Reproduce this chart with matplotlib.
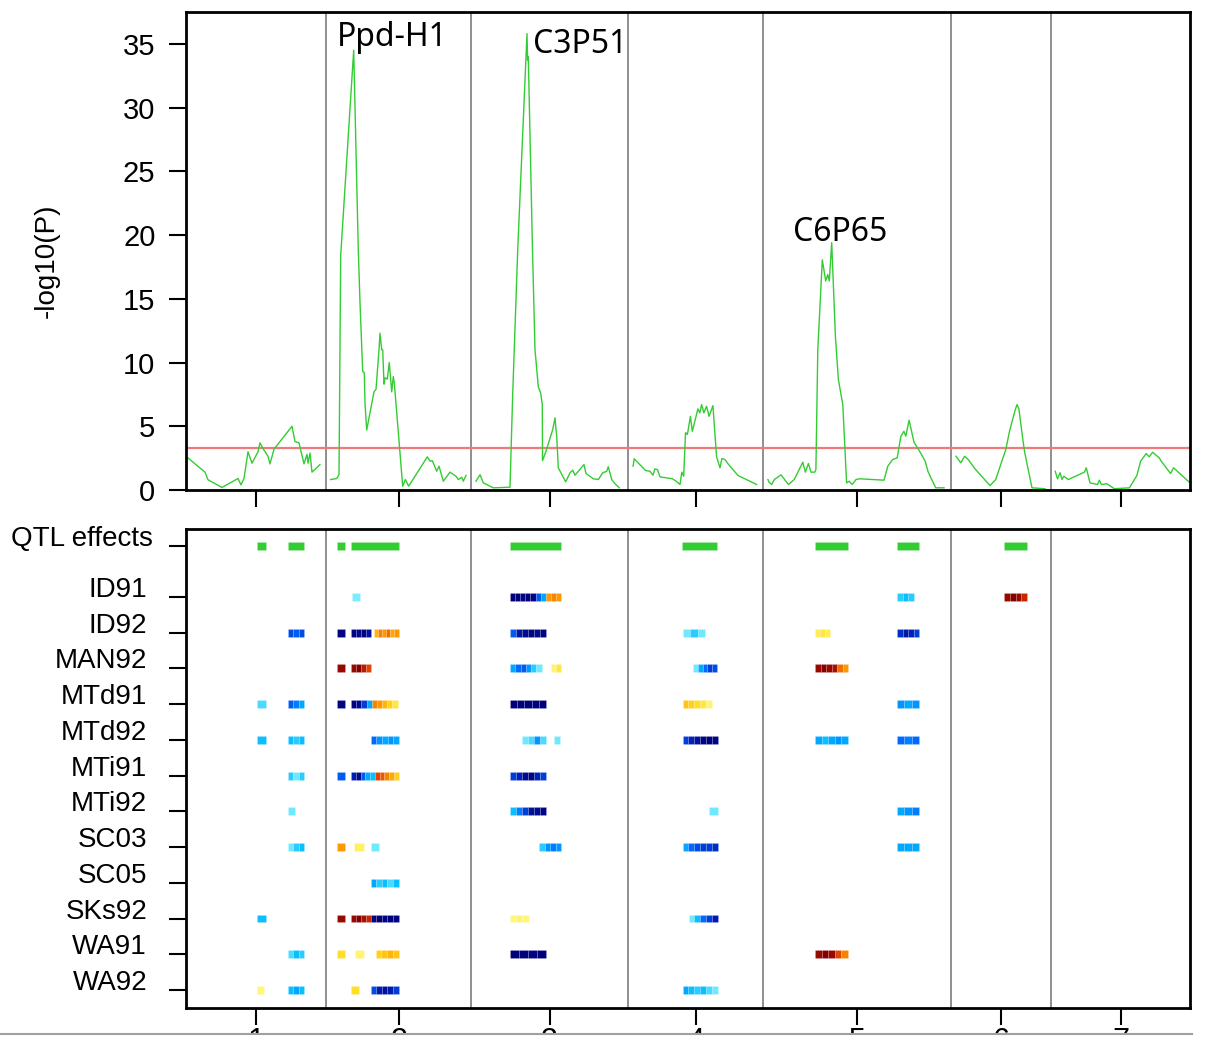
import numpy as np
import matplotlib
matplotlib.use("Agg")
import matplotlib.pyplot as plt
from matplotlib.colors import LinearSegmentedColormap, Normalize
from matplotlib.patches import Rectangle
from matplotlib.lines import Line2D

# chromosome lengths (cM) and tick labels
chrom_len = [140, 145, 157, 135, 188, 100, 139]
chrom_labels = ['1', '2', '3', '4', '5', '6', '7']

# -log10(P) scan, per chromosome (position cM, value)
scan_pos = [
    [0.7, 19, 22, 36, 52, 55, 58, 62, 66, 72, 74, 77, 82, 84, 88, 106, 109, 113,
     118, 121, 122, 124, 126, 134],
    [4.7, 10.7, 13, 14.7, 27.7, 32.3, 34, 34.3, 36.7, 38.3, 39, 40.7, 48, 50, 53,
     54, 55.7, 56.7, 58, 59, 61.3, 63.3, 65.7, 67.3, 68.3, 76.7, 79.3, 82.7, 101.3,
     104, 106.3, 110.7, 113, 117.3, 124, 130, 132.3, 135.7, 137.3, 140],
    [5, 9, 12.3, 22.3, 39, 41.7, 46.7, 56, 56.6, 57.3, 61.5, 64, 67.3, 69.7, 71.3,
     71.5, 75, 81.7, 84, 85.7, 87.3, 94.7, 99, 101.7, 104, 113, 115, 122.3, 127.3,
     131.7, 135.7, 137.3, 140.7, 144, 148.3],
    [5.1, 6.2, 17.5, 22, 25, 26.8, 29.5, 32, 44.4, 48.2, 52, 53.8, 55.7, 57.5, 59.4,
     62.4, 64.3, 69.9, 71.8, 73.6, 75.9, 78.5, 81.1, 84.9, 88.6, 92, 93.9, 96.9,
     100.6, 110, 128.7],
    [4.9, 6, 8.7, 11.3, 18, 25.5, 31.2, 39.8, 42.4, 45.4, 48, 51.8, 52.9, 54.8, 59.3,
     62.7, 64.7, 66.3, 68.7, 72.4, 75.4, 79.8, 83.6, 86.2, 89.2, 93, 96.7, 121, 124.8,
     129.7, 134.2, 137.9, 140.9, 142.8, 146.1, 151, 156.6, 162.2, 164.9, 167.9,
     172.7, 181],
    [5, 9.8, 13.6, 17.3, 24, 39, 44.7, 54.8, 58.5, 61.5, 64.1, 66, 67.9, 71.6, 73.5,
     76.5, 81, 94],
    [4.2, 6.5, 9.1, 11, 12.8, 17.3, 33.4, 35.3, 39, 46.5, 48.4, 50.3, 55.9, 63.4,
     78.4, 85.9, 89.6, 95.2, 98.2, 101.6, 108.3, 110.2, 119.6, 122.6, 138.3],
]
scan_val = [
    [2.6, 1.4, 0.8, 0.2, 0.9, 0.4, 0.9, 3.0, 2.1, 3.0, 3.7, 3.25, 2.65, 2.05, 3.2,
     5.0, 3.8, 3.7, 2.05, 2.8, 2.1, 2.9, 1.4, 2.0],
    [0.82, 0.9, 1.2, 18.4, 34.5, 18.8, 14.7, 14.1, 9.3, 9.2, 6.8, 4.7, 7.7, 7.9, 11.0,
     12.3, 11.0, 11.0, 8.3, 8.8, 8.7, 10.0, 7.7, 8.9, 8.4, 0.3, 0.82, 0.3, 2.6, 2.26,
     2.3, 1.47, 1.87, 0.69, 1.4, 1.08, 0.82, 1.0, 0.69, 1.14],
    [0.69, 1.2, 0.56, 0.17, 0.22, 7.5, 18.8, 35.8, 33.7, 34.0, 18.8, 11.0, 8.1, 7.6,
     6.7, 2.3, 3.04, 4.74, 5.66, 4.2, 1.74, 0.64, 1.35, 1.55, 1.16, 2.0, 1.29, 0.88,
     0.82, 1.35, 1.47, 1.82, 0.82, 0.49, 0.17],
    [1.87, 2.45, 1.53, 1.47, 1.16, 1.66, 1.6, 1.03, 0.88, 0.69, 0.43, 1.4, 1.08, 4.5,
     4.35, 5.78, 4.6, 6.36, 6.05, 6.7, 6.05, 6.57, 5.78, 6.62, 2.6, 1.74, 2.47, 2.39,
     2.0, 1.14, 0.43],
    [0.82, 0.61, 0.43, 0.82, 1.19, 0.43, 0.82, 2.18, 1.4, 2.08, 1.4, 1.4, 1.6, 11.0,
     18.06, 16.4, 16.9, 16.4, 19.4, 12.05, 8.66, 6.7, 0.56, 0.69, 0.43, 0.82, 0.88,
     0.77, 1.87, 2.39, 2.52, 4.22, 4.6, 4.22, 5.47, 3.75, 3.04, 2.26, 1.47, 0.96,
     0.17, 0.17],
    [2.65, 2.13, 2.65, 2.39, 1.66, 0.35, 0.82, 3.17, 4.6, 5.5, 6.25, 6.7, 6.36, 4.1,
     3.04, 1.87, 0.17, 0.1],
    [1.47, 0.88, 1.35, 0.82, 1.08, 0.82, 1.4, 1.74, 0.56, 0.43, 0.77, 0.43, 0.49, 0.1,
     0.17, 1.14, 2.26, 2.86, 2.6, 2.96, 2.52, 2.26, 1.29, 1.74, 0.61],
]
threshold = 3.3

# peak labels: (text, chromosome, position cM, value)
peak_labels = [('Ppd-H1', 2, 11.3, 34.8), ('C3P51', 3, 62.3, 34.3), ('C6P65', 5, 29.7, 19.5)]

# QTL intervals (chromosome, start cM, end cM)
qtl_bars = [(1, 71, 80), (1, 102, 118), (2, 11, 19), (2, 25, 73), (3, 39, 90),
            (4, 54, 89), (5, 52, 85), (5, 134, 156), (6, 53, 76)]

# QTL effects per environment: (chromosome, start, end, effects along the interval)
ID91 = [(2, 26, 34, [-0.08]), (3, 39, 90, [-1, -1, -0.95, -1, -0.95, -0.5, -0.3, 0.5, 0.55, 0.5]),
        (5, 134, 151, [-0.2, -0.25, -0.2]), (6, 53, 76, [0.95, 1, 0.95, 0.8])]
ID92 = [(1, 102, 118, [-0.55, -0.5, -0.55]), (2, 11, 19, [-0.95]),
        (2, 25, 45, [-0.95, -0.9, -0.95, -0.85]), (2, 47.5, 72.5, [0.4, 0.55, 0.5, 0.6, 0.45, 0.5]),
        (3, 39, 75, [-0.5, -0.8, -0.9, -0.95, -0.9, -0.95]), (4, 55, 77, [-0.1, -0.2, -0.1]),
        (5, 52, 67, [0.15, 0.2, 0.15]), (5, 134, 156, [-0.65, -0.8, -0.7, -0.6])]
MAN92 = [(2, 11, 19, [0.95]), (2, 25, 44.5, [0.95, 1, 0.85, 0.7]),
         (3, 39, 70.5, [-0.3, -0.45, -0.5, -0.35, -0.2, -0.1]), (3, 79.5, 90, [0.1, 0.2]),
         (4, 65, 89, [-0.1, -0.3, -0.45, -0.6, -0.55]), (5, 52, 85, [0.95, 1, 0.95, 0.9, 0.6, 0.5])]
MTd91 = [(1, 71, 80, [-0.15]), (1, 102, 118, [-0.5, -0.4, -0.3]), (2, 11, 19, [-0.95]),
         (2, 25, 71.5, [-0.95, -0.9, -0.6, -0.3, 0.55, 0.5, 0.4, 0.3, 0.2]),
         (3, 39, 75, [-1, -1, -1, -1, -1]), (4, 54.5, 83.5, [0.35, 0.3, 0.25, 0.2, 0.1]),
         (5, 134, 156, [-0.35, -0.3, -0.35])]
MTd92 = [(1, 71, 80, [-0.25]), (1, 102, 118, [-0.25, -0.2, -0.25]),
         (2, 44.5, 73, [-0.45, -0.35, -0.3, -0.35, -0.3]), (3, 50.5, 74.5, [-0.1, -0.15, -0.35, -0.15]),
         (3, 82.5, 89, [-0.1]), (4, 54.5, 89.5, [-0.6, -0.7, -0.85, -0.95, -1, -0.95]),
         (5, 52, 85, [-0.3, -0.25, -0.3, -0.35, -0.3]), (5, 134, 156, [-0.45, -0.4, -0.45])]
MTi91 = [(1, 102, 118, [-0.2, -0.1, -0.2]), (2, 11, 19, [-0.5]),
         (2, 25, 72.5, [-0.75, -0.9, -0.5, -0.3, -0.25, 0.7, 0.65, 0.55, 0.45, 0.3]),
         (3, 39, 75, [-0.6, -0.7, -0.9, -0.95, -0.7, -0.6])]
MTi92 = [(1, 102, 109, [-0.1]), (3, 39, 75, [-0.25, -0.4, -0.6, -0.85, -0.9, -0.95]),
         (4, 80.5, 89.5, [-0.1]), (5, 134, 156, [-0.3, -0.35, -0.4])]
SC03 = [(1, 102, 118, [-0.1, -0.2, -0.25]), (2, 11, 19, [0.5]), (2, 28, 38, [0.12]),
        (2, 45, 53, [-0.1]), (3, 68, 90, [-0.2, -0.35, -0.4, -0.35]),
        (4, 54.5, 89.5, [-0.3, -0.45, -0.55, -0.6, -0.6, -0.65]), (5, 134, 156, [-0.3, -0.3, -0.3])]
SC05 = [(2, 44.5, 72.5, [-0.3, -0.2, -0.25, -0.15, -0.25])]
SKs92 = [(1, 71, 80, [-0.25]), (2, 11, 19, [0.95]), (2, 25, 44.5, [0.95, 1, 0.9, 0.8]),
         (2, 44.5, 72.5, [-0.95, -1, -0.95, -1, -0.95]), (3, 39, 57.5, [0.08, 0.1, 0.08]),
         (4, 60.5, 89.5, [-0.1, -0.25, -0.45, -0.6, -0.75])]
WA91 = [(1, 102, 118, [-0.15, -0.25, -0.2]), (2, 11, 19, [0.25]), (2, 28.5, 37.5, [0.1]),
        (2, 49.5, 72.5, [0.3, 0.35, 0.4, 0.35]), (3, 39, 75, [-1, -1, -0.95, -1]),
        (5, 52, 85, [0.95, 1, 0.95, 0.7, 0.55])]
WA92 = [(1, 71, 78, [0.08]), (1, 102, 118, [-0.25, -0.3, -0.25]), (2, 25, 33, [0.25]),
        (2, 44.5, 72.5, [-0.55, -0.75, -0.85, -0.75, -0.6]),
        (4, 54.5, 89.5, [-0.3, -0.25, -0.2, -0.25, -0.15, -0.1])]

env_names = ['ID91', 'ID92', 'MAN92', 'MTd91', 'MTd92', 'MTi91', 'MTi92',
             'SC03', 'SC05', 'SKs92', 'WA91', 'WA92']
env_effects = [ID91, ID92, MAN92, MTd91, MTd92, MTi91, MTi92, SC03, SC05, SKs92, WA91, WA92]

# ---------------------------------------------------------------------------
tick_font = ['Liberation Sans', 'DejaVu Sans']
green = '#33cc33'
cmap = LinearSegmentedColormap.from_list('eff', [
    (0.0, '#00007a'), (0.15, '#0022bb'), (0.27, '#0066ff'), (0.37, '#00bbff'),
    (0.49, '#a6ffff'), (0.51, '#ffff99'), (0.63, '#ffdd22'), (0.75, '#ff9900'),
    (0.87, '#dd3300'), (1.0, '#850000')])
norm = Normalize(-1, 1)

offsets = np.concatenate([[0], np.cumsum(chrom_len)[:-1]])
ends = np.cumsum(chrom_len)
centers = offsets + np.array(chrom_len) / 2
total = ends[-1]

W, H = 1207, 1037
fig = plt.figure(figsize=(W / 100, H / 100), dpi=100)
ax1 = fig.add_axes([186 / W, 1 - 490 / H, 1004 / W, 478 / H])
ax2 = fig.add_axes([186 / W, 1 - 1007.5 / H, 1004 / W, 478.5 / H])

# --- top panel: genome scan
for c in range(len(chrom_len)):
    ax1.plot(offsets[c] + np.array(scan_pos[c]), scan_val[c], color=green, lw=1)
ax1.axhline(threshold, color='#f07a7a', lw=1.6, zorder=1)
for b in ends[:-1]:
    ax1.axvline(b, color='#707070', lw=1.1, zorder=0)
for text, c, pos, val in peak_labels:
    ax1.text(offsets[c - 1] + pos, val, text, fontsize=23, family='Noto Sans',
             ha='left', va='baseline')
ax1.set_xlim(0, total)
ax1.set_ylim(0, 37.5)
ax1.set_xticks(centers)
ax1.tick_params(axis='x', labelbottom=False, length=12, width=1.5)
ax1.set_yticks(range(0, 36, 5))
ax1.set_yticklabels([str(v) for v in range(0, 36, 5)], family=tick_font, fontsize=21)
ax1.tick_params(axis='y', length=12, width=1.5, pad=10)
fig.text(47 / W, 1 - 260.5 / H, '-log10(P)', rotation=90, ha='center', va='center',
         fontsize=20, family='Liberation Sans')

# --- bottom panel: QTL effects
bar_h = 0.22
qtl_y = 12.43
for c, s, e in qtl_bars:
    ax2.barh(qtl_y, e - s, left=offsets[c - 1] + s, height=bar_h, color=green,
             edgecolor=(1, 1, 1, 0.15), linewidth=0.5)

for i, bars in enumerate(env_effects):
    y = len(env_names) - 1 - i
    for c, s, e, vals in bars:
        step = (e - s) / len(vals)
        lefts = offsets[c - 1] + s + step * np.arange(len(vals))
        ax2.barh(np.full(len(vals), y), step, left=lefts, height=bar_h,
                 color=cmap(norm(vals)), edgecolor=(1, 1, 1, 0.18), linewidth=0.5)

for b in ends[:-1]:
    ax2.axvline(b, color='#707070', lw=1.1, zorder=0)

ax2.set_xlim(0, total)
ax2.set_ylim(-0.49, 12.9)
ax2.set_xticks(centers)
ax2.set_xticklabels(chrom_labels, family=tick_font, fontsize=22)
ax2.tick_params(axis='x', length=12, width=1.5, pad=2)
yt = [qtl_y] + [len(env_names) - 1 - i for i in range(len(env_names))]
ax2.set_yticks(yt)
ax2.set_yticklabels([''] + env_names, family=tick_font, fontsize=20)
ax2.tick_params(axis='y', length=12, width=1.5, pad=16)
for lab in ax2.get_yticklabels():
    lab.set_verticalalignment('baseline')
ax2.text((11 - 186) / 1004, qtl_y, 'QTL effects', transform=ax2.get_yaxis_transform(),
         ha='left', va='baseline', family=tick_font, fontsize=20)

for ax in (ax1, ax2):
    for sp in ax.spines.values():
        sp.set_linewidth(2)

# cropped bottom edge of the original figure
fig.add_artist(Rectangle((0, 0), 1, 1 - 1034 / H, transform=fig.transFigure,
                         facecolor='white', edgecolor='none', zorder=10))
fig.add_artist(Line2D([0, 1192 / W], [1 - 1034 / H] * 2, transform=fig.transFigure,
                      color='#a0a0a0', lw=1.5, zorder=11))

fig.savefig('out.png', dpi=100)
